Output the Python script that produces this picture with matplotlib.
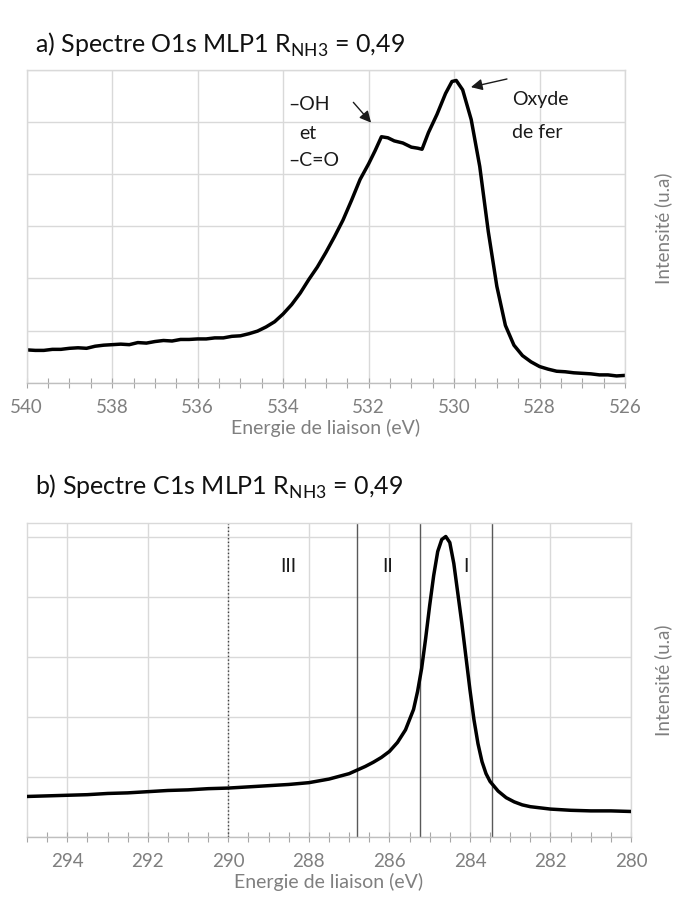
import matplotlib
matplotlib.use("Agg")
import matplotlib.pyplot as plt
from matplotlib.ticker import MultipleLocator, NullFormatter

plt.rcParams['font.family'] = ['Lato', 'DejaVu Sans']

# ---- Panel a: O1s spectrum ----
o1s_energy = [540.0, 539.8, 539.6, 539.4, 539.2, 539.0, 538.8, 538.6, 538.4, 538.2,
              538.0, 537.8, 537.6, 537.4, 537.2, 537.0, 536.8, 536.6, 536.4, 536.2,
              536.0, 535.8, 535.6, 535.4, 535.2, 535.0, 534.8, 534.6, 534.4, 534.2,
              534.0, 533.8, 533.6, 533.4, 533.2, 533.0, 532.8, 532.6, 532.4, 532.2,
              532.0, 531.85, 531.7, 531.55, 531.4, 531.2, 531.0, 530.85, 530.75, 530.6,
              530.4, 530.2, 530.05, 529.95, 529.8, 529.6, 529.4, 529.2, 529.0, 528.8,
              528.6, 528.4, 528.2, 528.0, 527.8, 527.6, 527.4, 527.2, 527.0, 526.8,
              526.6, 526.4, 526.2, 526.0]
o1s_intensity = [0.63, 0.62, 0.62, 0.64, 0.64, 0.66, 0.67, 0.66, 0.70, 0.72,
                 0.73, 0.74, 0.73, 0.77, 0.76, 0.79, 0.81, 0.80, 0.83, 0.83,
                 0.84, 0.84, 0.86, 0.86, 0.89, 0.90, 0.94, 0.99, 1.07, 1.17,
                 1.32, 1.50, 1.72, 1.98, 2.22, 2.50, 2.80, 3.12, 3.50, 3.90,
                 4.20, 4.45, 4.72, 4.70, 4.64, 4.60, 4.52, 4.50, 4.48, 4.80,
                 5.15, 5.55, 5.78, 5.80, 5.62, 5.05, 4.15, 2.90, 1.85, 1.10,
                 0.72, 0.52, 0.40, 0.31, 0.26, 0.22, 0.21, 0.19, 0.18, 0.17,
                 0.15, 0.15, 0.13, 0.14]

# ---- Panel b: C1s spectrum ----
c1s_energy = [295.0, 294.5, 294.0, 293.5, 293.0, 292.5, 292.0, 291.5, 291.0, 290.5,
              290.0, 289.5, 289.0, 288.5, 288.0, 287.5, 287.0, 286.8, 286.6, 286.4,
              286.2, 286.0, 285.8, 285.6, 285.4, 285.3, 285.2, 285.1, 285.0, 284.9,
              284.8, 284.7, 284.6, 284.5, 284.4, 284.3, 284.2, 284.1, 284.0, 283.9,
              283.8, 283.7, 283.6, 283.5, 283.3, 283.1, 282.9, 282.7, 282.5, 282.0,
              281.5, 281.0, 280.5, 280.0]
c1s_intensity = [0.67, 0.68, 0.69, 0.70, 0.72, 0.73, 0.75, 0.77, 0.78, 0.80,
                 0.81, 0.83, 0.85, 0.87, 0.90, 0.96, 1.05, 1.11, 1.17, 1.24,
                 1.32, 1.42, 1.57, 1.78, 2.12, 2.42, 2.80, 3.30, 3.85, 4.35,
                 4.75, 4.95, 5.00, 4.90, 4.55, 4.05, 3.55, 3.00, 2.45, 1.95,
                 1.55, 1.25, 1.05, 0.92, 0.76, 0.65, 0.58, 0.53, 0.50, 0.46,
                 0.44, 0.43, 0.43, 0.42]

c1s_dividers = [290.0, 286.8, 285.25, 283.45]
c1s_region_labels = ["III", "II", "I"]
c1s_region_pos = [288.5, 286.05, 284.1]

GRID = "#d9d9d9"
LABC = "#7f7f7f"

fig = plt.figure(figsize=(6.75, 8.99), dpi=100)
axa = fig.add_axes([0.0396, 0.5743, 0.8864, 0.3478])
axb = fig.add_axes([0.0400, 0.0693, 0.8948, 0.3486])


def style(ax, xmin, xmax, ymax):
    ax.set_xlim(xmax, xmin)
    ax.set_ylim(0, ymax)
    ax.xaxis.set_major_locator(MultipleLocator(2))
    ax.xaxis.set_minor_locator(MultipleLocator(0.5))
    ax.yaxis.set_major_locator(MultipleLocator(1))
    ax.yaxis.set_major_formatter(NullFormatter())
    ax.tick_params(axis='y', length=0)
    ax.tick_params(axis='x', which='both', direction='inout', length=7,
                   color="#a6a6a6", width=0.8, labelsize=13.5, labelcolor=LABC, pad=8)
    ax.grid(True, which='major', color=GRID, lw=1.0)
    ax.set_axisbelow(True)
    for s in ax.spines.values():
        s.set_color(GRID)
        s.set_linewidth(1.0)
    ax.spines['bottom'].set_color("#bfbfbf")
    ax.set_xlabel("Energie de liaison (eV)", fontsize=14, color=LABC, labelpad=2)


style(axa, 526, 540, 6)
axa.plot(o1s_energy, o1s_intensity, color='black', lw=2.5, solid_joinstyle='round')
fig.text(0.982, 1 - 228 / 899, "Intensité (u.a)", rotation=90, ha='center', va='center',
         fontsize=13.5, color=LABC)
fig.text(0.052, 1 - 45 / 899, r"a) Spectre O1s MLP1 R$_{\mathregular{NH3}}$ = 0,49",
         fontsize=18, color="#111111", va='center', ha='left')

tk = dict(fontsize=14, color="#1a1a1a", va='center', ha='left')
axa.text(533.89, 5.33, "–OH", **tk)
axa.text(533.62, 4.79, "et", **tk)
axa.text(533.89, 4.27, "–C=O", **tk)
axa.text(528.64, 5.43, "Oxyde", **tk)
axa.text(528.64, 4.81, "de fer", **tk)
axa.annotate("", xy=(531.9, 4.95), xytext=(532.4, 5.42),
             arrowprops=dict(arrowstyle="-|>", color="#1a1a1a", lw=1.0, mutation_scale=17))
axa.annotate("", xy=(529.67, 5.66), xytext=(528.7, 5.84),
             arrowprops=dict(arrowstyle="-|>", color="#1a1a1a", lw=1.0, mutation_scale=17))

style(axb, 280, 295, 5.22)
for i, xv in enumerate(c1s_dividers):
    axb.axvline(xv, color="#404040" if i == 0 else "#595959",
                lw=1.0, ls=':' if i == 0 else '-', zorder=2)
axb.plot(c1s_energy, c1s_intensity, color='black', lw=2.5, solid_joinstyle='round', zorder=3)
for lab, xv in zip(c1s_region_labels, c1s_region_pos):
    axb.text(xv, 4.5, lab, fontsize=14, color="#1a1a1a", ha='center', va='center')
fig.text(0.982, 1 - 680 / 899, "Intensité (u.a)", rotation=90, ha='center', va='center',
         fontsize=13.5, color=LABC)
fig.text(0.052, 1 - 487 / 899, r"b) Spectre C1s MLP1 R$_{\mathregular{NH3}}$ = 0,49",
         fontsize=18, color="#111111", va='center', ha='left')

fig.savefig("out.png", dpi=100, facecolor='white')
